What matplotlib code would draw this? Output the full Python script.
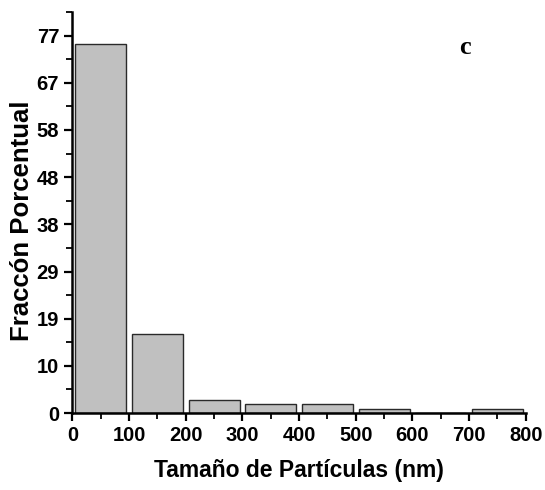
import matplotlib.pyplot as plt
import numpy as np
from matplotlib.ticker import MultipleLocator

# histogram bins (nm) and percentage fraction
bin_left = [0, 100, 200, 300, 400, 500, 600, 700]
fraction = [75.2, 16.2, 2.7, 1.8, 1.8, 0.8, 0.0, 0.8]
ytick_vals = [0, 9.62, 19.24, 28.86, 38.48, 48.1, 57.72, 67.34, 76.96]
ytick_labels = ["0", "10", "19", "29", "38", "48", "58", "67", "77"]
xticks = [0, 100, 200, 300, 400, 500, 600, 700, 800]

plt.rcParams["font.family"] = ["Liberation Sans", "DejaVu Sans"]
plt.rcParams["font.weight"] = "bold"

fig = plt.figure(figsize=(5.45, 4.9), dpi=100)
ax = fig.add_axes([0.1327, 0.157, 0.832, 0.8185])

centers = np.array(bin_left) + 50
ax.bar(centers, fraction, width=90, color="#c0c0c0", edgecolor="#2a2a2a", linewidth=1.0)

ax.set_xlim(0, 800)
ax.set_ylim(0, 81.7)
ax.set_xticks(xticks)
ax.set_xticklabels([str(v) for v in xticks])
ax.set_yticks(ytick_vals)
ax.set_yticklabels(ytick_labels)
ax.xaxis.set_minor_locator(MultipleLocator(50))
ax.set_yticks([v + 4.81 for v in ytick_vals], minor=True)

for s in ["top", "right"]:
    ax.spines[s].set_visible(False)
for s in ["left", "bottom"]:
    ax.spines[s].set_linewidth(1.8)

ax.tick_params(which="major", direction="out", length=6, width=1.6, labelsize=14.5, pad=3.5)
ax.tick_params(which="minor", direction="out", length=4, width=1.3)
for lab in ax.get_xticklabels() + ax.get_yticklabels():
    lab.set_fontweight("bold")

ax.set_xlabel("Tamaño de Partículas (nm)", fontsize=16.5, fontweight="bold", labelpad=10)
ax.set_ylabel("Fraccón Porcentual", fontsize=18.5, fontweight="bold")
ax.yaxis.set_label_coords(-0.085, 0.48)

ax.text(0.866, 0.912, "c", transform=ax.transAxes, fontsize=19, fontweight="bold",
        family="Liberation Serif", ha="center", va="center")

plt.savefig("out.png", dpi=100)
